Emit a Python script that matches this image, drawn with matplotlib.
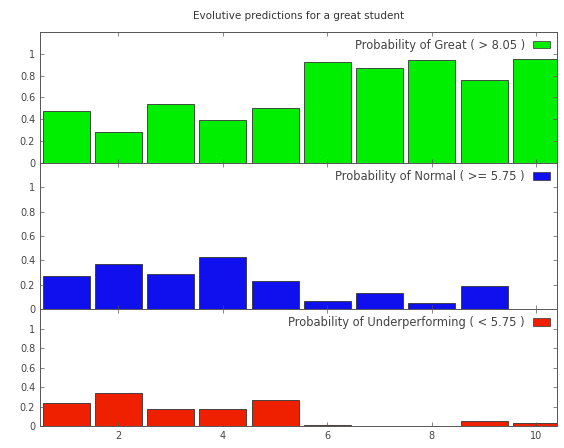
import matplotlib
matplotlib.use("Agg")
import matplotlib.pyplot as plt
from matplotlib.patches import Patch
import numpy as np

# data
steps = [1, 2, 3, 4, 5, 6, 7, 8, 9, 10]
p_great = [0.48, 0.28, 0.54, 0.39, 0.50, 0.92, 0.865, 0.945, 0.76, 0.955]
p_normal = [0.275, 0.37, 0.29, 0.43, 0.23, 0.066, 0.135, 0.052, 0.187, 0.005]
p_under = [0.24, 0.335, 0.17, 0.17, 0.265, 0.01, 0.0, 0.003, 0.05, 0.03]

labels = ['Probability of Great ( > 8.05 )',
          'Probability of Normal ( >= 5.75 )',
          'Probability of Underperforming ( < 5.75 )']
colors = ['#00ee00', '#1010ee', '#ee2000']
series = [p_great, p_normal, p_under]

plt.rcParams['font.family'] = 'DejaVu Sans'
plt.rcParams['font.size'] = 7
txt = '#444444'

fig = plt.figure(figsize=(5.64, 4.48), dpi=100)
boxes = [(0.071, 0.636, 0.917, 0.293),
         (0.071, 0.310, 0.917, 0.326),
         (0.071, 0.049, 0.917, 0.261)]

for i, (vals, lab, col, box) in enumerate(zip(series, labels, colors, boxes)):
    ax = fig.add_axes(box)
    ax.bar(steps, vals, width=0.9, color=col, edgecolor='#333333', linewidth=0.6)
    ax.set_xlim(0.5, 10.4)
    ax.set_ylim(0, 1.2)
    ax.set_yticks([0, 0.2, 0.4, 0.6, 0.8, 1])
    ax.set_yticklabels(['0', '0.2', '0.4', '0.6', '0.8', '1'], color=txt)
    ax.set_xticks([2, 4, 6, 8, 10])
    ax.tick_params(direction='in', length=3, width=0.5, colors='#555555',
                   top=True, right=True, labelcolor=txt)
    if i < 2:
        ax.tick_params(labelbottom=False)
    for s in ax.spines.values():
        s.set_linewidth(0.7)
        s.set_color('#555555')
    ax.legend([Patch(facecolor=col, edgecolor='#333333', linewidth=0.5)], [lab],
              loc='upper right', frameon=False, markerfirst=False,
              handlelength=1.5, handleheight=0.6, handletextpad=0.7,
              borderaxespad=0.2, labelcolor=txt, fontsize=8.3)
    if i == 0:
        ax.set_title('Evolutive predictions for a great student', fontsize=7.5,
                     color='#333333', pad=9)

plt.savefig('out.png', dpi=100)
